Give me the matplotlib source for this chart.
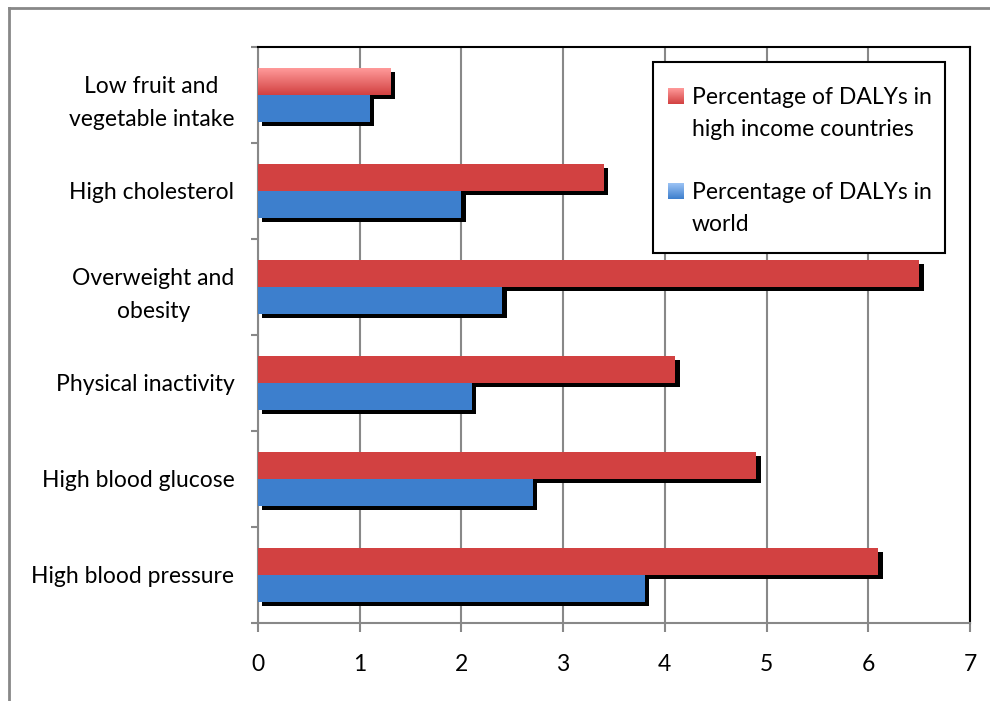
import numpy as np
import matplotlib.pyplot as plt
import matplotlib.transforms as mtransforms
from matplotlib.lines import Line2D
from matplotlib.patches import Rectangle
from matplotlib.colors import LinearSegmentedColormap

plt.rcParams['font.family'] = ['Lato', 'DejaVu Sans']

categories = ['High blood pressure', 'High blood glucose', 'Physical inactivity',
              'Overweight and\nobesity', 'High cholesterol', 'Low fruit and\nvegetable intake']
high_income = [6.1, 4.9, 4.1, 6.5, 3.4, 1.3]
world = [3.8, 2.7, 2.1, 2.4, 2.0, 1.1]
labels = ['Percentage of DALYs in\nhigh income countries', 'Percentage of DALYs in\nworld']

red = '#D24141'
blue = '#3D7FCD'
fs = 16.5

fig = plt.figure(figsize=(9.9, 7.01), dpi=100)
ax = fig.add_axes([0.2606, 0.1113, 0.7192, 0.8217])

y = np.arange(len(categories))
h = 0.28

# shadow, offset a few pixels right and down
shadow = ax.transData + mtransforms.ScaledTranslation(4.5 / 100, -4 / 100, fig.dpi_scale_trans)
ax.barh(y + h / 2, high_income, height=h, color='black', transform=shadow, zorder=2)
ax.barh(y - h / 2, world, height=h, color='black', transform=shadow, zorder=2)

red_bars = ax.barh(y + h / 2, high_income, height=h, color=red, zorder=3)
blue_bars = ax.barh(y - h / 2, world, height=h, color=blue, zorder=3)

grad = np.linspace(0, 1, 64).reshape(-1, 1)
red_grad = LinearSegmentedColormap.from_list('redgrad', ['#FF9A9A', red])
blue_grad = LinearSegmentedColormap.from_list('bluegrad', ['#9CC3F5', blue])

# gradient fill on the top red bar
top = red_bars[-1]
top.set_facecolor('none')
top.set_edgecolor('none')
x0, yb = top.get_x(), top.get_y()
ax.imshow(grad, cmap=red_grad, aspect='auto', origin='upper',
          extent=[x0, x0 + top.get_width(), yb, yb + top.get_height()], zorder=3)

ax.set_xlim(0, 7)
ax.set_ylim(-0.5, len(categories) - 0.5)
ax.set_xticks(range(8))
ax.set_yticks(y)
ax.set_yticklabels(categories, multialignment='center', linespacing=1.68)
ax.set_yticks(np.arange(-0.5, len(categories), 1), minor=True)
ax.tick_params(axis='y', which='major', length=0, pad=17, labelsize=fs)
ax.tick_params(axis='y', which='minor', length=5, width=1.5, color='#888888', direction='out')
ax.tick_params(axis='x', length=6.5, width=1.5, color='#888888', direction='out', pad=16, labelsize=fs)
ax.grid(axis='x', color='#888888', linewidth=1.5, zorder=0)
ax.set_axisbelow(True)

for side in ['left', 'bottom']:
    ax.spines[side].set_color('#888888')
    ax.spines[side].set_linewidth(1.5)
for side in ['top', 'right']:
    ax.spines[side].set_color('black')
    ax.spines[side].set_linewidth(1.5)

# legend box, handles sit on the first text line like in Excel
ax.add_patch(Rectangle((0.5548, 0.6424), 0.4101, 0.3316, transform=ax.transAxes,
                       facecolor='white', edgecolor='black', linewidth=1.5, zorder=5))
for cm, text, base in zip([red_grad, blue_grad], labels, [0.901, 0.736]):
    ax.imshow(grad, cmap=cm, aspect='auto', origin='upper', transform=ax.transAxes,
              extent=[0.5758, 0.5758 + 0.0211, base, base + 0.027], zorder=6)
    # baseline alignment uses the last line, so step down one line (32 px)
    ax.text(0.6096, base - 32 / 576, text, transform=ax.transAxes, fontsize=fs,
            va='baseline', ha='left', linespacing=1.62, zorder=6)

ax.set_xlim(0, 7)
ax.set_ylim(-0.5, len(categories) - 0.5)

# outer chart border
fig.add_artist(Line2D([9 / 990, 9 / 990], [0, 1 - 8 / 701], color='#888888', linewidth=2))
fig.add_artist(Line2D([9 / 990, 1], [1 - 8 / 701, 1 - 8 / 701], color='#888888', linewidth=2))

fig.savefig('out.png', dpi=100)
